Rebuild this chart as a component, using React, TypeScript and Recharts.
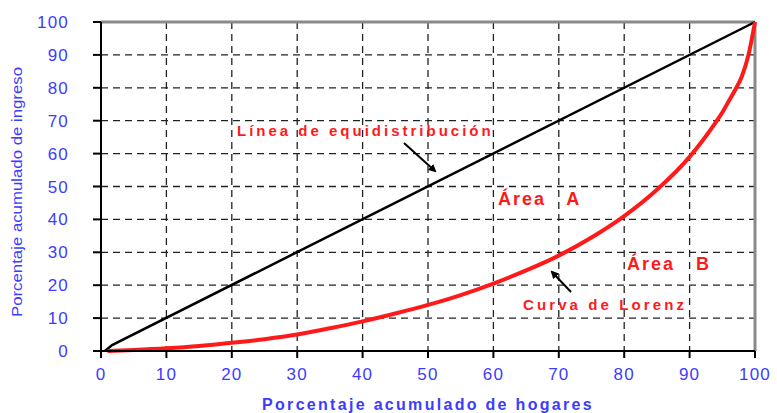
import React from 'react';
import { LineChart, Line, XAxis, YAxis, CartesianGrid, ReferenceLine, Label } from 'recharts';

// household share (x) vs income share (y)
const equalityLine = [
  { x: 0.6, y: 0 },
  { x: 1.7, y: 1.8 },
  { x: 100, y: 100 },
];

const lorenzCurve = [
  { x: 1, y: 0 },
  { x: 5, y: 0.3 },
  { x: 10, y: 0.8 },
  { x: 15, y: 1.5 },
  { x: 20, y: 2.5 },
  { x: 25, y: 3.6 },
  { x: 30, y: 5 },
  { x: 35, y: 6.9 },
  { x: 40, y: 9 },
  { x: 45, y: 11.4 },
  { x: 50, y: 14 },
  { x: 55, y: 17 },
  { x: 60, y: 20.5 },
  { x: 65, y: 24.5 },
  { x: 70, y: 29 },
  { x: 75, y: 34.5 },
  { x: 80, y: 41 },
  { x: 85, y: 49 },
  { x: 90, y: 59 },
  { x: 92, y: 64 },
  { x: 94, y: 69.5 },
  { x: 95, y: 72.5 },
  { x: 96, y: 76 },
  { x: 97, y: 79.5 },
  { x: 98, y: 83.5 },
  { x: 99, y: 90 },
  { x: 100, y: 100 },
];

const ticks = [0, 10, 20, 30, 40, 50, 60, 70, 80, 90, 100];

const BLUE = '#3c3cff';
const RED = '#ff1a1a';
const FONT = 'Liberation Sans, Arial, sans-serif';

const XTick = (props: any) => (
  <text x={props.x} y={props.y + 20} textAnchor="middle" fill={BLUE} fontSize={17} fontFamily={FONT} letterSpacing={1.2}>
    {props.payload.value}
  </text>
);

const YTick = (props: any) => (
  <text x={props.x - 22} y={props.y + 6} textAnchor="end" fill={BLUE} fontSize={17} fontFamily={FONT} letterSpacing={1.2}>
    {props.payload.value}
  </text>
);

const App: React.FC = () => {
  return (
    <div style={{ position: 'absolute', left: 0, top: 0, width: 777, height: 413, background: '#fff' }}>
      <LineChart width={777} height={413} margin={{ top: 22, right: 22, bottom: 30, left: 41 }}>
        <CartesianGrid stroke="#222" strokeWidth={1.3} strokeDasharray="7 5" />
        <XAxis
          type="number"
          dataKey="x"
          domain={[0, 100]}
          ticks={ticks}
          tick={<XTick />}
          tickSize={7}
          stroke="#000"
          strokeWidth={2}
          height={32}
          allowDuplicatedCategory={false}
        >
          <Label
            value="Porcentaje acumulado de hogares"
            position="insideBottom"
            offset={-27}
            style={{ fill: BLUE, fontSize: 16, fontWeight: 'bold', letterSpacing: 2.3, fontFamily: FONT }}
          />
        </XAxis>
        <YAxis
          type="number"
          dataKey="y"
          domain={[0, 100]}
          ticks={ticks}
          tick={<YTick />}
          tickSize={8}
          stroke="#000"
          strokeWidth={2}
          width={60}
        />
        <ReferenceLine y={100} stroke="#8a8a8a" strokeWidth={3} />
        <ReferenceLine x={100} stroke="#8a8a8a" strokeWidth={3} />
        <Line
          data={equalityLine}
          dataKey="y"
          type="linear"
          stroke="#000"
          strokeWidth={2.5}
          dot={false}
          isAnimationActive={false}
        />
        <Line
          data={lorenzCurve}
          dataKey="y"
          type="monotone"
          stroke={RED}
          strokeWidth={4}
          dot={false}
          isAnimationActive={false}
        />
      </LineChart>
      <svg
        width={777}
        height={413}
        style={{ position: 'absolute', left: 0, top: 0, pointerEvents: 'none' }}
        fontFamily={FONT}
      >
        <defs>
          <marker id="ah" markerWidth="8" markerHeight="8" refX="6" refY="4" orient="auto" markerUnits="userSpaceOnUse">
            <path d="M0,0 L8,4 L0,8 z" fill="#000" />
          </marker>
        </defs>
        <text
          transform="translate(22,192) rotate(-90)"
          textAnchor="middle"
          fill={BLUE}
          fontSize={14}
          textLength={250}
          lengthAdjust="spacingAndGlyphs"
        >
          Porcentaje acumulado de ingreso
        </text>
        <text x={237} y={136} fill={RED} fontSize={15} fontWeight="bold" letterSpacing={3}>
          Línea de equidistribución
        </text>
        <line x1={404} y1={143} x2={435} y2={171} stroke="#000" strokeWidth={2} markerEnd="url(#ah)" />
        <text x={498} y={205} fill={RED} fontSize={18} fontWeight="bold" letterSpacing={2} xmlSpace="preserve">
          Área   A
        </text>
        <text x={627} y={270} fill={RED} fontSize={18} fontWeight="bold" letterSpacing={2} xmlSpace="preserve">
          Área   B
        </text>
        <text x={523} y={310} fill={RED} fontSize={15} fontWeight="bold" letterSpacing={3.1}>
          Curva de Lorenz
        </text>
        <line x1={571} y1={292} x2={552} y2={272} stroke="#000" strokeWidth={2} markerEnd="url(#ah)" />
      </svg>
    </div>
  );
};

export default App;
